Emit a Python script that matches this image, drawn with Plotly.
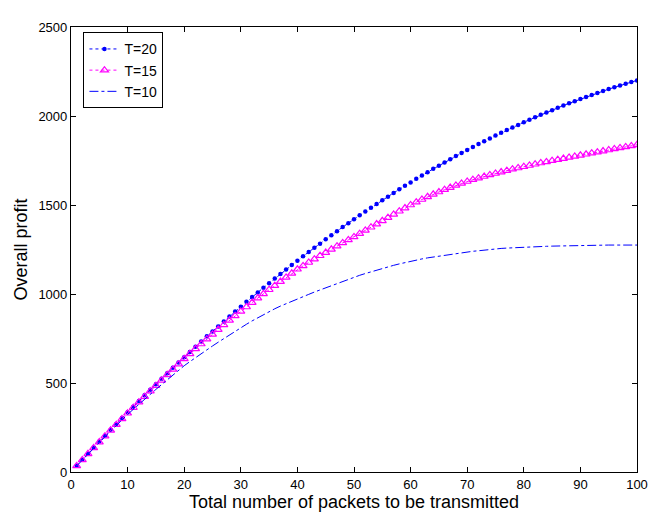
import plotly.graph_objects as go

packets = list(range(1, 101))

profit_T20 = [35, 69, 103, 137, 171, 204, 237, 270, 303, 335,
              367, 399, 431, 462, 493, 524, 555, 585, 615, 645,
              674, 704, 733, 762, 790, 818, 846, 874, 902, 929,
              956, 983, 1009, 1035, 1061, 1087, 1112, 1138, 1163, 1187,
              1212, 1236, 1260, 1283, 1307, 1330, 1353, 1376, 1398, 1420,
              1442, 1464, 1485, 1506, 1527, 1547, 1568, 1588, 1608, 1627,
              1647, 1666, 1684, 1703, 1721, 1739, 1757, 1775, 1792, 1809,
              1826, 1842, 1858, 1874, 1890, 1906, 1921, 1936, 1950, 1965,
              1979, 1993, 2007, 2020, 2033, 2046, 2059, 2071, 2083, 2095,
              2107, 2118, 2129, 2140, 2151, 2161, 2171, 2181, 2191, 2200]

profit_T15 = [34, 68, 102, 135, 168, 201, 234, 266, 298, 330,
              361, 392, 423, 454, 485, 515, 546, 576, 606, 636,
              664, 692, 719, 746, 773, 800, 826, 852, 877, 902,
              927, 952, 977, 1001, 1024, 1047, 1070, 1093, 1116, 1139,
              1158, 1177, 1196, 1215, 1233, 1251, 1269, 1287, 1304, 1321,
              1339, 1357, 1375, 1393, 1411, 1429, 1447, 1465, 1483, 1500,
              1516, 1531, 1546, 1560, 1573, 1586, 1598, 1610, 1621, 1632,
              1642, 1651, 1660, 1669, 1677, 1685, 1693, 1701, 1708, 1715,
              1722, 1729, 1736, 1742, 1749, 1755, 1761, 1767, 1773, 1779,
              1785, 1791, 1797, 1803, 1809, 1815, 1821, 1826, 1832, 1838]

profit_T10 = [34, 68, 101, 134, 166, 198, 230, 262, 293, 323,
              352, 381, 409, 437, 464, 491, 518, 544, 571, 597,
              620, 643, 665, 687, 708, 729, 750, 771, 791, 811,
              830, 849, 867, 885, 902, 917, 932, 946, 959, 972,
              985, 998, 1011, 1023, 1036, 1048, 1060, 1072, 1084, 1095,
              1105, 1115, 1125, 1135, 1144, 1153, 1161, 1169, 1177, 1185,
              1191, 1197, 1203, 1208, 1213, 1218, 1223, 1228, 1232, 1236,
              1240, 1243, 1247, 1250, 1253, 1256, 1258, 1260, 1262, 1264,
              1265, 1266, 1267, 1268, 1269, 1270, 1271, 1272, 1273, 1274,
              1274, 1275, 1275, 1275, 1275, 1275, 1275, 1275, 1275, 1275]

x_ticks = [0, 10, 20, 30, 40, 50, 60, 70, 80, 90, 100]
y_ticks = [0, 500, 1000, 1500, 2000, 2500]

FONT = "Liberation Sans, Arial, Helvetica, sans-serif"

fig = go.Figure()
fig.add_trace(go.Scatter(
    x=packets, y=profit_T20, name="T=20", mode="lines+markers",
    line=dict(color="#0000ff", width=1, dash="dot"),
    marker=dict(symbol="circle", size=4.5, color="#0000ff"),
))
fig.add_trace(go.Scatter(
    x=packets, y=profit_T15, name="T=15", mode="lines+markers",
    line=dict(color="#ff00ff", width=1, dash="dot"),
    marker=dict(symbol="triangle-up-open", size=7, color="#ff00ff",
                line=dict(width=1.2, color="#ff00ff")),
))
fig.add_trace(go.Scatter(
    x=packets, y=profit_T10, name="T=10", mode="lines",
    line=dict(color="#0000ff", width=1, dash="dashdot"),
))

axis_common = dict(
    showline=True, linecolor="black", linewidth=1.2, mirror="ticks",
    ticks="inside", ticklen=5, tickcolor="black", tickwidth=1,
    showgrid=False, zeroline=False,
    tickfont=dict(family=FONT, size=13, color="black"),
)

fig.update_layout(
    width=662, height=518,
    margin=dict(l=56, r=33, t=13, b=54),
    paper_bgcolor="white", plot_bgcolor="white",
    font=dict(family=FONT, color="black"),
    xaxis=dict(range=[0, 100], tickvals=x_ticks,
               title=dict(text="Total number of packets to be transmitted",
                          font=dict(family=FONT, size=18), standoff=2),
               **axis_common),
    yaxis=dict(range=[0, 2500], tickvals=y_ticks,
               title=dict(text="Overall profit",
                          font=dict(family=FONT, size=18), standoff=6),
               **axis_common),
    legend=dict(x=0.022, y=0.988, xanchor="left", yanchor="top",
                bgcolor="white", bordercolor="black", borderwidth=1,
                font=dict(family=FONT, size=14), tracegroupgap=0,
                itemwidth=30),
    showlegend=True,
)

fig.write_html("out.html")
